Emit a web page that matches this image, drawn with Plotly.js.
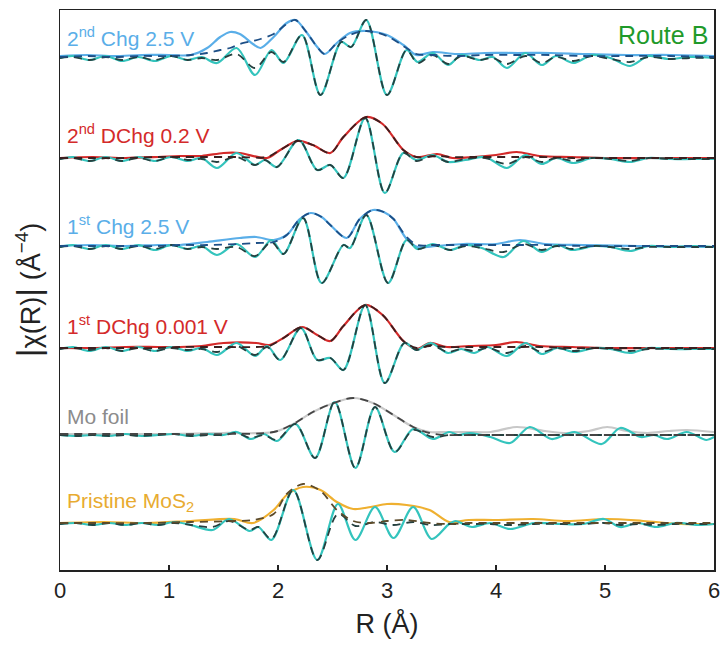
<!DOCTYPE html>
<html>
<head>
<meta charset="utf-8">
<script src="https://cdn.plot.ly/plotly-3.0.1.min.js"></script>
<style>html,body{margin:0;padding:0;background:#fff;}#chart{width:728px;height:668px;}</style>
</head>
<body>
<div id="chart"></div>
<script>
// ---------- data (R in Å, amplitudes in arbitrary units, upward positive) ----------
const OFFSETS = {chg2: 512, dchg2: 411, chg1: 323, dchg1: 221, mo: 135, pri: 46};

// 2nd Chg 2.5 V
const chg2_re_R = [0,0.12,0.27,0.42,0.57,0.72,0.87,1.02,1.17,1.3,1.44,1.62,1.79,1.94,2.05,2.22,2.39,2.58,2.67,2.81,3.0,3.18,3.28,3.42,3.56,3.68,3.85,3.97,4.1,4.27,4.42,4.55,4.71,4.88,5.05,5.23,5.4,5.58,5.78,6.0];
const chg2_re     = [0,2,-2,2,-3,1,-3,2,-2,1,-5,10,-17,8,-5,23,-37,16,11,38,-37,8,-4,5,-7,3,-2,1,-10,5,-7,2,-5,3,0,-8,2,-1,1,0];
const chg2_re_fit = [0,1,-2,1,-2,1,-2,2,-2,0,-2,4,-10,6,-4,23,-37,16,11,38,-37,8,-5,3,-6,2,-2,0,-6,2,-5,1,-3,2,-1,-4,1,-1,0,0];
const chg2_mag_R = [0,0.25,0.5,0.75,1.0,1.2,1.35,1.47,1.56,1.65,1.77,1.84,1.96,2.08,2.16,2.26,2.36,2.43,2.54,2.66,2.81,3.0,3.15,3.27,3.42,3.64,3.9,4.2,4.5,4.8,5.2,5.6,6.0];
const chg2_mag     = [2,3,2,3,3,3,10,21,26,24,14,10,21,35,38,26,11,4,15,25,27,23,13,3,6,4,5,5,5,4,3,3,2];
const chg2_mag_fit = [1,2,1,2,2,3,5,8,10,14,17,19,24,34,38,26,11,4,15,23,27,22,12,4,3,2,3,3,3,2,2,2,1];

// 2nd DChg 0.2 V
const dchg2_re_R = [0,0.12,0.27,0.42,0.57,0.72,0.87,1.02,1.17,1.3,1.44,1.62,1.79,1.88,1.99,2.19,2.36,2.48,2.6,2.8,2.98,3.15,3.27,3.42,3.56,3.72,3.9,4.1,4.27,4.42,4.55,4.71,4.88,5.05,5.23,5.4,5.6,5.8,6.0];
const dchg2_re     = [0,2,-2,2,-2,2,-2,2,-2,1,-9,6,-6,-1,-8,19,-11,-6,-19,41,-34,6,-1,4,-3,-1,2,-9,4,-5,1,-4,1,0,-3,1,0,0,0];
const dchg2_re_fit = [0,1,-2,1,-2,1,-2,2,-1,0,-3,2,-6,-1,-8,19,-11,-6,-19,41,-34,6,-2,3,-3,0,1,-5,2,-3,1,-2,1,0,-2,1,0,0,0];
const dchg2_mag_R = [0,0.3,0.6,0.9,1.1,1.3,1.5,1.65,1.9,2.02,2.18,2.32,2.48,2.6,2.81,2.96,3.15,3.27,3.46,3.6,3.8,4.0,4.19,4.4,4.7,5.0,5.5,6.0];
const dchg2_mag     = [1,2,1,2,3,3,6,6,1,9,18,14,6,22,42,35,9,2,5,1,2,4,7,3,2,1,1,1];
const dchg2_mag_fit = [1,1,1,2,2,2,2,2,2,9,18,14,6,22,42,35,9,2,3,2,2,2,2,2,1,1,1,1];

// 1st Chg 2.5 V
const chg1_re_R = [0,0.12,0.27,0.42,0.57,0.72,0.87,1.02,1.17,1.3,1.44,1.62,1.79,1.94,2.05,2.23,2.4,2.6,2.66,2.81,3.01,3.18,3.28,3.42,3.58,3.72,3.87,4.07,4.25,4.42,4.56,4.7,4.9,5.05,5.23,5.4,5.6,5.8,6.0];
const chg1_re     = [0,2,-2,2,-2,2,-3,2,-2,1,-8,3,-10,7,-7,29,-36,2,-1,32,-36,7,-2,3,-3,2,-1,-10,6,-5,2,-3,1,0,-4,1,0,1,0];
const chg1_re_fit = [0,1,-2,1,-2,1,-2,2,-2,0,-2,0,-9,5,-7,29,-36,2,-1,32,-36,7,-2,2,-3,1,-1,-5,3,-3,1,-2,1,0,-2,0,0,0,0];
const chg1_mag_R = [0,0.3,0.6,0.9,1.1,1.35,1.65,1.8,1.96,2.08,2.2,2.3,2.4,2.48,2.63,2.75,2.87,2.97,3.06,3.18,3.28,3.45,3.7,4.0,4.22,4.45,4.8,5.3,6.0];
const chg1_mag     = [1,2,1,2,2,5,9,10,7,12,28,34,30,22,9,28,37,35,28,8,0,1,3,3,7,3,2,1,0];
const chg1_mag_fit = [1,1,1,1,2,2,3,4,5,12,28,34,30,22,9,28,37,35,28,10,2,2,2,2,2,2,1,1,1];

// 1st DChg 0.001 V
const dchg1_re_R = [0,0.12,0.27,0.42,0.57,0.72,0.87,1.02,1.17,1.3,1.44,1.62,1.79,1.9,2.02,2.21,2.36,2.48,2.6,2.8,2.98,3.16,3.27,3.4,3.56,3.68,3.8,3.92,4.1,4.27,4.42,4.56,4.72,4.9,5.05,5.23,5.4,5.6,5.8,6.0];
const dchg1_re     = [0,2,-2,2,-2,2,-2,2,-2,1,-6,6,-7,3,-11,21,-11,-9,-21,44,-34,6,-1,6,-4,0,-4,2,-7,6,-5,1,-3,1,0,-4,1,0,0,0];
const dchg1_re_fit = [0,1,-1,1,-2,1,-2,1,-1,0,-3,3,-6,2,-11,21,-11,-9,-21,44,-34,6,-1,4,-3,0,-2,1,-4,3,-3,1,-2,1,0,-2,0,0,0,0];
const dchg1_mag_R = [0,0.3,0.6,0.9,1.1,1.3,1.5,1.8,1.92,2.05,2.22,2.36,2.48,2.6,2.8,2.96,3.15,3.27,3.39,3.55,3.75,4.0,4.19,4.4,4.7,5.0,5.5,6.0];
const dchg1_mag     = [1,1,2,2,2,3,6,6,4,11,22,14,8,23,44,34,8,0,6,2,3,4,7,3,2,1,1,1];
const dchg1_mag_fit = [1,1,1,1,2,2,2,2,3,11,22,14,8,23,44,34,8,1,3,2,2,2,2,2,1,1,1,1];

// Mo foil
const mo_re_R = [0,0.15,0.3,0.45,0.6,0.75,0.9,1.05,1.2,1.35,1.5,1.62,1.75,1.87,1.99,2.16,2.34,2.52,2.71,2.89,3.07,3.24,3.42,3.57,3.65,3.76,3.95,4.13,4.31,4.51,4.72,4.97,5.14,5.33,5.45,5.57,5.75,5.93,6.0];
const mo_re     = [0,-1,0,-1,1,-1,0,1,-1,1,0,3,-4,1,-6,11,-23,33,-33,28,-17,6,-4,3,0,2,-2,-8,8,-4,3,-9,7,-2,0,-4,3,-5,-2];
const mo_re_fit = [0,-1,0,-1,0,-1,0,1,-1,0,0,2,-3,0,-5,11,-23,33,-33,28,-17,5,-2,0,0,0,0,0,0,0,0,0,0,0,0,0,0,0,0];
const mo_mag_R = [0,0.5,1.0,1.5,1.96,2.14,2.32,2.51,2.69,2.87,3.06,3.24,3.39,3.55,3.75,3.95,4.19,4.45,4.65,4.85,5.02,5.2,5.39,5.58,5.75,6.0];
const mo_mag     = [1,1,1,2,3,11,23,32,37,32,20,8,3,3,3,3,8,4,2,4,8,4,2,4,5,3];
const mo_mag_fit = [1,1,1,1,3,11,23,32,37,32,20,8,2,0,0,0,0,0,0,0,0,0,0,0,0,0];

// Pristine MoS2
const pri_re_R = [0,0.15,0.3,0.45,0.6,0.75,0.9,1.05,1.2,1.4,1.55,1.74,1.82,1.94,2.14,2.36,2.55,2.71,2.89,3.06,3.24,3.41,3.57,3.63,3.7,3.78,3.95,4.13,4.35,4.6,4.8,4.99,5.14,5.3,5.47,5.65,5.85,6.0];
const pri_re     = [0,1,-1,1,-1,1,-1,2,-1,-6,5,-7,-3,-16,34,-36,20,-16,17,-14,17,-15,0,3,0,-3,1,-5,1,0,0,5,-3,1,-3,1,-1,0];
const pri_re_fit = [0,1,-1,1,-1,1,-1,1,-1,-3,3,-6,-3,-15,34,-36,10,-2,2,-1,2,-1,0,0,0,0,0,-1,0,0,0,1,-1,0,-1,0,0,0];
const pri_mag_R = [0,0.4,0.8,1.2,1.6,1.77,1.96,2.08,2.23,2.39,2.54,2.69,2.85,3.0,3.18,3.39,3.57,3.75,4.0,4.34,4.65,5.02,5.35,5.7,6.0];
const pri_mag     = [1,2,1,3,5,1,14,29,37,34,22,15,17,20,19,14,2,4,4,5,3,5,3,0,0];
const pri_mag_fit = [1,1,1,2,3,4,10,30,40,33,14,3,1,3,4,1,0,1,1,1,1,1,1,1,1];

const LABELS = ['2<sup>nd</sup> Chg 2.5 V','2<sup>nd</sup> DChg 0.2 V','1<sup>st</sup> Chg 2.5 V','1<sup>st</sup> DChg 0.001 V','Mo foil','Pristine MoS<sub>2</sub>'];

// ---------- styling ----------
const CYAN = '#34c4bd';
const REFIT = '#25403f';
const FONT = 'Arial, Liberation Sans, sans-serif';
const specs = [
  {key:'chg2', reR:chg2_re_R, re:chg2_re, reF:chg2_re_fit, mR:chg2_mag_R, m:chg2_mag, mF:chg2_mag_fit, c:'#5aaee8', fc:'#1d4f86', lc:'#5aaee8', ly:533},
  {key:'dchg2', reR:dchg2_re_R, re:dchg2_re, reF:dchg2_re_fit, mR:dchg2_mag_R, m:dchg2_mag, mF:dchg2_mag_fit, c:'#d42a2a', fc:'#3b1f1f', lc:'#d42a2a', ly:436},
  {key:'chg1', reR:chg1_re_R, re:chg1_re, reF:chg1_re_fit, mR:chg1_mag_R, m:chg1_mag, mF:chg1_mag_fit, c:'#5aaee8', fc:'#1d4f86', lc:'#5aaee8', ly:345},
  {key:'dchg1', reR:dchg1_re_R, re:dchg1_re, reF:dchg1_re_fit, mR:dchg1_mag_R, m:dchg1_mag, mF:dchg1_mag_fit, c:'#d42a2a', fc:'#3b1f1f', lc:'#d42a2a', ly:245},
  {key:'mo', reR:mo_re_R, re:mo_re, reF:mo_re_fit, mR:mo_mag_R, m:mo_mag, mF:mo_mag_fit, c:'#c8c8c8', fc:'#444444', lc:'#8c8c8c', ly:154},
  {key:'pri', reR:pri_re_R, re:pri_re, reF:pri_re_fit, mR:pri_mag_R, m:pri_mag, mF:pri_mag_fit, c:'#efb030', fc:'#5c4a2a', lc:'#e8ab30', ly:68}
];

function line(x, v, off, color, dash, w) {
  return {x: x, y: v.map(a => a + off), type:'scatter', mode:'lines', hoverinfo:'skip', showlegend:false,
          line:{color:color, width:w||2, dash:dash||'solid', shape:'spline', smoothing:0.9}};
}

const traces = [];
specs.forEach(s => {
  const off = OFFSETS[s.key];
  traces.push(line(s.mR, s.m, off, s.c, 'solid', 2.2));
  traces.push(line(s.reR, s.re, off, CYAN, 'solid', 2.2));
});
specs.forEach(s => {
  const off = OFFSETS[s.key];
  traces.push(line(s.reR, s.reF, off, REFIT, '8px,6px', 1.8));
  traces.push(line(s.mR, s.mF, off, s.fc, '8px,6px', 1.8));
});

const annotations = specs.map((s, i) => ({
  x: 0.045, y: s.ly, xref:'x', yref:'y', xanchor:'left', yanchor:'middle', showarrow:false,
  text: LABELS[i], font:{family:FONT, size:21, color:s.lc}
}));
annotations.push({x: 5.96, y: 535, xref:'x', yref:'y', xanchor:'right', yanchor:'middle', showarrow:false,
  text:'Route B', font:{family:FONT, size:25, color:'#1f9a2a'}});

const layout = {
  width:728, height:668,
  margin:{l:60, r:14, t:10, b:98},
  paper_bgcolor:'#fff', plot_bgcolor:'#fff',
  font:{family:FONT, color:'#222'},
  xaxis:{range:[0,6], dtick:1, tick0:0, ticks:'inside', ticklen:5, tickwidth:1.5, tickcolor:'#222',
         showline:true, mirror:true, linecolor:'#222', linewidth:1.5, showgrid:false, zeroline:false,
         tickfont:{size:22, color:'#222'},
         title:{text:'R (Å)', font:{size:27, color:'#222'}, standoff:12}},
  yaxis:{range:[0,560], showticklabels:false, ticks:'', showline:true, mirror:true, linecolor:'#222',
         linewidth:1.5, showgrid:false, zeroline:false,
         title:{text:'<span style="font-size:34px">|</span>χ(R)<span style="font-size:34px">|</span> (Å<sup>−4</sup>)', font:{size:27, color:'#222'}, standoff:10}},
  annotations: annotations
};

Plotly.newPlot('chart', traces, layout, {staticPlot:true, displayModeBar:false});
</script>
</body>
</html>
